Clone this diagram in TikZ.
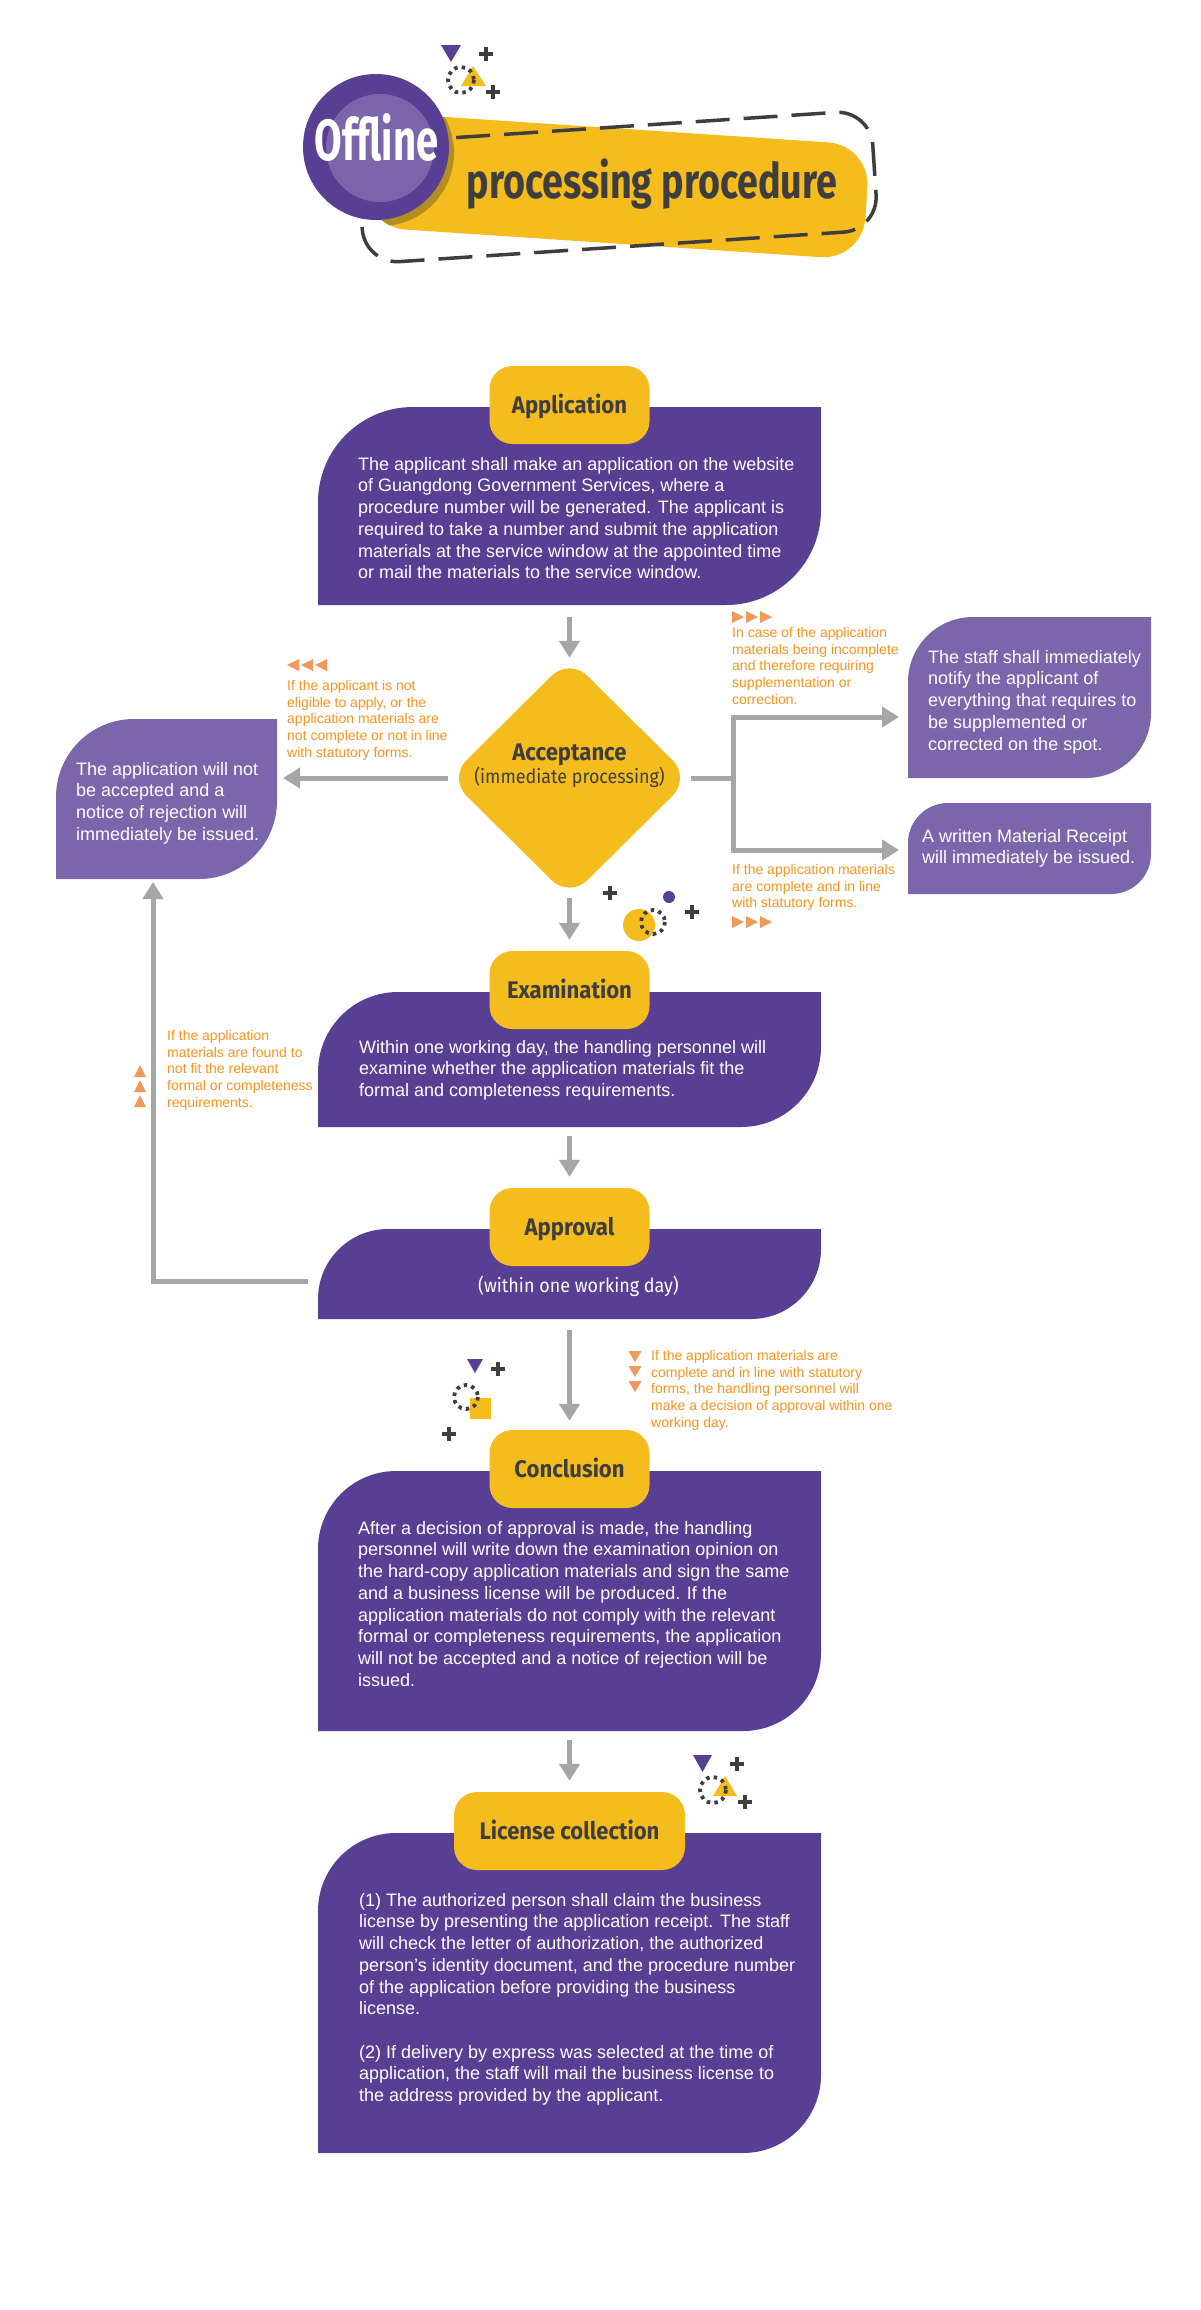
\documentclass[tikz,border=0pt]{standalone}
\usepackage{fontspec}
\setmainfont{Liberation Sans}
\newfontfamily\headfont{Fira Sans}[FakeStretch=0.92]
\newfontfamily\condfont{Fira Sans}[FakeStretch=0.92]
\newfontfamily\titlefont{Fira Sans}[FakeStretch=0.69]
\newfontfamily\subtitlefont{Fira Sans}[FakeStretch=0.77]
\usetikzlibrary{arrows.meta,shapes.geometric}

\definecolor{darkpurple}{RGB}{89,63,147}
\definecolor{lightpurple}{RGB}{123,101,171}
\definecolor{gold}{RGB}{245,188,29}
\definecolor{darkgold}{RGB}{178,142,33}
\definecolor{ink}{RGB}{62,62,62}
\definecolor{arrowgray}{RGB}{166,166,166}
\definecolor{noteorange}{RGB}{247,148,30}
\definecolor{tricolor}{RGB}{239,154,91}

% leaf shaped box: node name, radius, colour
\newcommand{\leafbox}[3]{%
\fill[#3] (#1.south west) -- ([yshift=-#2pt]#1.north west)
  .. controls ([yshift=-0.4477*#2pt]#1.north west) and ([xshift=0.4477*#2pt]#1.north west) .. ([xshift=#2pt]#1.north west)
  -- (#1.north east) -- ([yshift=#2pt]#1.south east)
  .. controls ([yshift=0.4477*#2pt]#1.south east) and ([xshift=-0.4477*#2pt]#1.south east) .. ([xshift=-#2pt]#1.south east)
  -- cycle;}

\begin{document}
\begin{tikzpicture}[x=1pt,y=-1pt,
  boxframe/.style={inner sep=0pt, outer sep=0pt, minimum width=503pt},
  steplabel/.style={fill=gold, rounded corners=23pt, minimum width=160pt, minimum height=78pt, inner sep=0pt,
    text=ink, font=\headfont\bfseries\fontsize{24}{28}\selectfont, text height=17pt, text depth=1pt},
  bodytext/.style={text=white, align=left, inner sep=0pt, anchor=north west, font=\fontsize{18}{21.7}\selectfont},
  notetext/.style={text=noteorange, align=left, inner sep=0pt, anchor=north west, font=\fontsize{14}{16.8}\selectfont},
  flow/.style={draw=arrowgray, line width=5pt, -{Triangle[length=17pt,width=20pt]}},
  dotring/.style={draw=ink, line width=3.8pt, dash pattern=on 3.5pt off 4.2pt},
  plusmark/.pic={\draw[ink, line width=4.5pt] (-7,0) -- (7,0) (0,-7) -- (0,7);},
  tleft/.pic={\fill[tricolor] (-6,0) -- (6,-6) -- (6,6) -- cycle;},
  tright/.pic={\fill[tricolor] (6,0) -- (-6,-6) -- (-6,6) -- cycle;},
  tup/.pic={\fill[tricolor] (0,-6) -- (-6,6) -- (6,6) -- cycle;},
  tdown/.pic={\fill[tricolor] (0,6) -- (-6.5,-5) -- (6.5,-5) -- cycle;}]
\fill[white] (0,0) rectangle (1201,2310);
\useasboundingbox (0,0) rectangle (1201,2310);

% title
\fill[gold, rotate around={-3.8:(617,186)}, rounded corners=42pt] (367,128.5) rectangle (867,243.5);
\draw[ink, line width=3.5pt, dash pattern=on 34pt off 14pt, rotate around={3.8:(617.5,187)}, rounded corners=35pt] (360,127) rectangle (875,247);
\begin{scope}
\clip[rotate around={-3.8:(617,186)}, rounded corners=42pt] (367,128.5) rectangle (867,243.5);
\fill[darkgold] (381,153) circle[radius=73];
\end{scope}
\fill[darkpurple] (376,147) circle[radius=73];
\fill[lightpurple] (380,148) circle[radius=54];
\node[text=white, font=\titlefont\bfseries\fontsize{58}{60}\selectfont, anchor=base, inner sep=0pt] (titleword) at (376.5,160) {Offline};
\node[text=ink, font=\subtitlefont\bfseries\fontsize{49}{52}\selectfont, anchor=base, inner sep=0pt] (titlerest) at (652,198) {processing procedure};

\fill[darkpurple] (441,45) -- (461,45) -- (451,62) -- cycle;
\pic at (486,54) {plusmark};
\fill[gold] (461,86) -- (486,86) -- (473,66) -- cycle;
\draw[dotring] (461,80) circle[radius=13];
\pic at (493,92) {plusmark};

% boxes
\node[boxframe, minimum height=198pt] (appbox) at (569.5,506) {};
\node[boxframe, minimum height=135pt] (exambox) at (569.5,1059.5) {};
\node[boxframe, minimum height=90pt] (apprbox) at (569.5,1274) {};
\node[boxframe, minimum height=260pt] (conclbox) at (569.5,1601) {};
\node[boxframe, minimum height=320pt] (licbox) at (569.5,1993) {};
\node[boxframe, minimum width=221pt, minimum height=160pt] (rejectbox) at (166.5,799) {};
\node[boxframe, minimum width=243pt, minimum height=161pt] (staffbox) at (1029.5,697.5) {};
\node[boxframe, minimum width=243pt, minimum height=91pt] (receiptbox) at (1029.5,848.5) {};

\leafbox{appbox}{95}{darkpurple}
\leafbox{exambox}{80}{darkpurple}
\leafbox{apprbox}{70}{darkpurple}
\leafbox{conclbox}{78}{darkpurple}
\leafbox{licbox}{78}{darkpurple}
\leafbox{rejectbox}{78}{lightpurple}
\leafbox{staffbox}{65}{lightpurple}
\leafbox{receiptbox}{40}{lightpurple}

\node[steplabel] (applabel) at ([yshift=2pt]appbox.north) {Application};
\node[steplabel] (examlabel) at ([yshift=2pt]exambox.north) {Examination};
\node[steplabel] (apprlabel) at ([yshift=2pt]apprbox.north) {Approval};
\node[steplabel] (concllabel) at ([yshift=2pt]conclbox.north) {Conclusion};
\node[steplabel, minimum width=231pt] (liclabel) at ([yshift=2pt]licbox.north) {License collection};

\node[diamond, fill=gold, rounded corners=25pt, minimum width=242pt, minimum height=240pt, inner sep=0pt] (accept) at (569.5,778) {};
\node[text=ink, font=\headfont\bfseries\fontsize{24}{28}\selectfont, anchor=base, inner sep=0pt] (accepttitle) at ([yshift=18pt]accept.center) {Acceptance};
\node[text=ink, font=\condfont\fontsize{19.5}{22}\selectfont, anchor=base, inner sep=0pt] (acceptsub) at ([yshift=-5pt]accept.center) {(immediate processing)};

% box texts
\node[bodytext] (apptext) at ([xshift=40pt,yshift=-50pt]appbox.north west) {The applicant shall make an application on the website\\of Guangdong Government Services, where a\\procedure number will be generated. The applicant is\\required to take a number and submit the application\\materials at the service window at the appointed time\\or mail the materials to the service window.};
\node[bodytext] (rejecttext) at ([xshift=20pt,yshift=-43pt]rejectbox.north west) {The application will not\\be accepted and a\\notice of rejection will\\immediately be issued.};
\node[bodytext] (stafftext) at ([xshift=20pt,yshift=-33pt]staffbox.north west) {The staff shall immediately\\notify the applicant of\\everything that requires to\\be supplemented or\\corrected on the spot.};
\node[bodytext] (receipttext) at ([xshift=14pt,yshift=-26pt]receiptbox.north west) {A written Material Receipt\\will immediately be issued.};
\node[bodytext] (examtext) at ([xshift=41pt,yshift=-48pt]exambox.north west) {Within one working day, the handling personnel will\\examine whether the application materials fit the\\formal and completeness requirements.};
\node[text=white, font=\condfont\fontsize{19.5}{22}\selectfont, anchor=base, inner sep=0pt] (apprtext) at ([xshift=9pt,yshift=-18pt]apprbox.center) {(within one working day)};
\node[bodytext] (concltext) at ([xshift=40pt,yshift=-50pt]conclbox.north west) {After a decision of approval is made, the handling\\personnel will write down the examination opinion on\\the hard-copy application materials and sign the same\\and a business license will be produced. If the\\application materials do not comply with the relevant\\formal or completeness requirements, the application\\will not be accepted and a notice of rejection will be\\issued.};
\node[bodytext] (lictext) at ([xshift=41pt,yshift=-60pt]licbox.north west) {(1) The authorized person shall claim the business\\license by presenting the application receipt. The staff\\will check the letter of authorization, the authorized\\person’s identity document, and the procedure number\\of the application before providing the business\\license.\\[21.7pt](2) If delivery by express was selected at the time of\\application, the staff will mail the business license to\\the address provided by the applicant.};

% notes
\node[notetext] (rejnote) at (287,680) {If the applicant is not\\eligible to apply, or the\\application materials are\\not complete or not in line\\with statutory forms.};
\node[notetext] (suppnote) at (732,627) {In case of the application\\materials being incomplete\\and therefore requiring\\supplementation or\\correction.};
\node[notetext] (compnote) at (732,864) {If the application materials\\are complete and in line\\with statutory forms.};
\node[notetext] (loopnote) at (167,1030) {If the application\\materials are found to\\not fit the relevant\\formal or completeness\\requirements.};
\node[notetext] (apprnote) at (651,1350) {If the application materials are\\complete and in line with statutory\\forms, the handling personnel will\\make a decision of approval within one\\working day.};
\foreach \x in {293,307,321} \pic at (\x,665) {tleft};
\foreach \x in {738,752,766} \pic at (\x,617) {tright};
\foreach \x in {738,752,766} \pic at (\x,922) {tright};
\foreach \y in {1071,1086,1101} \pic at (140,\y) {tup};
\foreach \y in {1356,1371,1386} \pic at (635,\y) {tdown};

% connectors
\coordinate (split) at ([xshift=43pt]accept.east);
\coordinate (staffin) at ([xshift=-9pt,yshift=-19.5pt]staffbox.west);
\coordinate (rcptin) at ([xshift=-9pt,yshift=-1.5pt]receiptbox.west);
\coordinate (rejin) at ([xshift=6pt]rejectbox.east);
\coordinate (loopstart) at ([xshift=-10pt,yshift=-7pt]apprbox.west);
\coordinate (rejbot) at ([xshift=-13.5pt,yshift=-3pt]rejectbox.south);
\draw[flow] ([yshift=-12pt]appbox.south) -- (accept.north);
\draw[flow] (accept.south) -- ([yshift=11pt]examlabel.north);
\draw[flow] ([yshift=-9pt]exambox.south) -- ([yshift=11pt]apprlabel.north);
\draw[flow] ([yshift=-11pt]apprbox.south) -- ([yshift=9pt]concllabel.north);
\draw[flow] ([yshift=-9pt]conclbox.south) -- ([yshift=11pt]liclabel.north);
\draw[flow] (accept.west) -- (rejin |- accept.west);
\draw[flow] (accept.east) -- (split) |- (staffin);
\draw[flow] (split) |- (rcptin);
\draw[flow] (loopstart) -| (rejbot);

% decorations
\pic at (610,893) {plusmark};
\fill[darkpurple] (669,897) circle[radius=6];
\pic at (692,912) {plusmark};
\fill[gold] (639,925) circle[radius=16];
\draw[dotring] (653,922) circle[radius=12];

\fill[darkpurple] (467,1359) -- (483,1359) -- (475,1373) -- cycle;
\pic at (498,1369) {plusmark};
\fill[gold] (470,1398) rectangle (491,1419);
\draw[dotring] (466,1397) circle[radius=12];
\pic at (449,1434) {plusmark};

\fill[darkpurple] (693,1755) -- (712,1755) -- (702.5,1772) -- cycle;
\pic at (737,1764) {plusmark};
\fill[gold] (713,1796) -- (737,1796) -- (725,1776) -- cycle;
\draw[dotring] (713,1790) circle[radius=13];
\pic at (745,1802) {plusmark};
\end{tikzpicture}
\end{document}
